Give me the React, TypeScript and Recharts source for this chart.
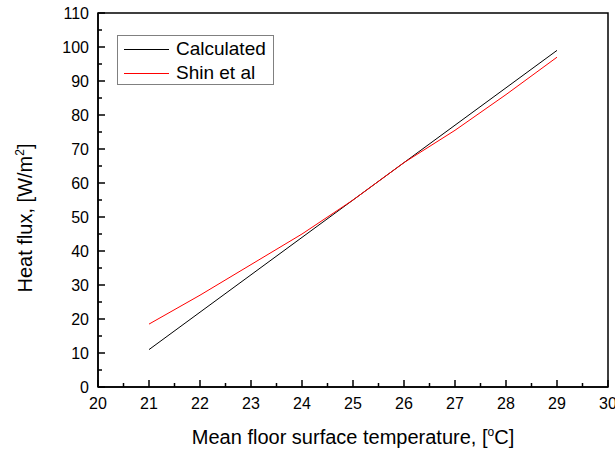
import React from 'react';
import { LineChart, Line, XAxis, YAxis, ReferenceArea, Legend } from 'recharts';

// Mean floor surface temperature [°C] vs heat flux [W/m²]
const temperatures = [21, 22, 23, 24, 25, 26, 27, 28, 29];
const calculatedFlux = [11, 22, 33, 44, 55, 66, 77, 88, 99];
const shinFlux = [18.5, 27, 36, 45, 55, 66, 75.5, 86, 97];

const xTicks = [20, 20.5, 21, 21.5, 22, 22.5, 23, 23.5, 24, 24.5, 25, 25.5, 26, 26.5, 27, 27.5, 28, 28.5, 29, 29.5, 30];
const yTicks = [0, 5, 10, 15, 20, 25, 30, 35, 40, 45, 50, 55, 60, 65, 70, 75, 80, 85, 90, 95, 100, 105, 110];

const FONT = '"Liberation Sans", Arial, sans-serif';

const data = temperatures.map((t, i) => ({
  t,
  calculated: calculatedFlux[i],
  shin: shinFlux[i],
}));

// ticks point into the plot; minor ticks get no label
const XTick = (props: any) => {
  const { x, y, payload } = props;
  const major = Number.isInteger(payload.value);
  return (
    <g>
      <line x1={x} y1={y} x2={x} y2={y - (major ? 7 : 4)} stroke="#000" strokeWidth={1.5} />
      {major && (
        <text x={x} y={y + 22} textAnchor="middle" fontSize={16} fontFamily={FONT} fill="#000">
          {payload.value}
        </text>
      )}
    </g>
  );
};

const YTick = (props: any) => {
  const { x, y, payload } = props;
  const major = payload.value % 10 === 0;
  return (
    <g>
      <line x1={x} y1={y} x2={x + (major ? 7 : 4)} y2={y} stroke="#000" strokeWidth={1.5} />
      {major && (
        <text x={x - 9} y={y + 6} textAnchor="end" fontSize={16} fontFamily={FONT} fill="#000">
          {payload.value}
        </text>
      )}
    </g>
  );
};

const XTitle = ({ viewBox }: any) => (
  <text
    x={viewBox.x + viewBox.width / 2}
    y={viewBox.y + 57}
    textAnchor="middle"
    fontSize={20}
    fontFamily={FONT}
    fill="#000"
  >
    Mean floor surface temperature, [
    <tspan dy={-8} fontSize={12}>o</tspan>
    <tspan dy={8}>C]</tspan>
  </text>
);

const YTitle = () => (
  <text
    x={32}
    y={218}
    transform="rotate(-90, 32, 218)"
    textAnchor="middle"
    fontSize={20}
    fontFamily={FONT}
    fill="#000"
  >
    Heat flux, [W/m
    <tspan dy={-8} fontSize={12}>2</tspan>
    <tspan dy={8}>]</tspan>
  </text>
);

const LegendBox = ({ payload }: any) => (
  <div
    style={{
      boxSizing: 'border-box',
      width: '100%',
      height: '100%',
      border: '1px solid #808080',
      background: '#fff',
      paddingTop: 1,
      fontFamily: FONT,
      fontSize: 19,
    }}
  >
    {(payload || []).map((entry: any) => (
      <div key={entry.value} style={{ display: 'flex', alignItems: 'center', height: 24 }}>
        <div style={{ width: 45, height: 0, borderTop: `1px solid ${entry.color}`, marginLeft: 6, marginRight: 7 }} />
        <span style={{ color: '#000', lineHeight: '24px' }}>{entry.value}</span>
      </div>
    ))}
  </div>
);

export default function App() {
  return (
    <div style={{ position: 'absolute', left: 0, top: 0, background: '#fff' }}>
      <LineChart width={615} height={452} data={data} margin={{ top: 13, right: 7, bottom: 0, left: 0 }}>
        <XAxis
          type="number"
          dataKey="t"
          domain={[20, 30]}
          ticks={xTicks}
          interval={0}
          tickSize={0}
          tickMargin={0}
          tickLine={false}
          tick={<XTick />}
          axisLine={{ stroke: '#000', strokeWidth: 1.5 }}
          height={65}
          label={{ content: <XTitle /> }}
        />
        <YAxis
          type="number"
          domain={[0, 110]}
          ticks={yTicks}
          interval={0}
          tickSize={0}
          tickMargin={0}
          tickLine={false}
          tick={<YTick />}
          axisLine={{ stroke: '#000', strokeWidth: 1.5 }}
          width={98}
          label={{ content: <YTitle /> }}
        />
        <ReferenceArea x1={20} x2={30} y1={0} y2={110} fill="none" stroke="#000" strokeWidth={1.5} />
        {/* floating legend box inside the plot, no space reserved for it */}
        <Legend
          layout="vertical"
          align="center"
          verticalAlign="middle"
          content={<LegendBox />}
          wrapperStyle={{ position: 'absolute', left: 117, top: 35, width: 157, height: 50 }}
        />
        <Line
          type="linear"
          dataKey="calculated"
          name="Calculated"
          stroke="#000"
          strokeWidth={1}
          dot={false}
          isAnimationActive={false}
        />
        <Line
          type="linear"
          dataKey="shin"
          name="Shin et al"
          stroke="#ff0000"
          strokeWidth={1}
          dot={false}
          isAnimationActive={false}
        />
      </LineChart>
    </div>
  );
}
